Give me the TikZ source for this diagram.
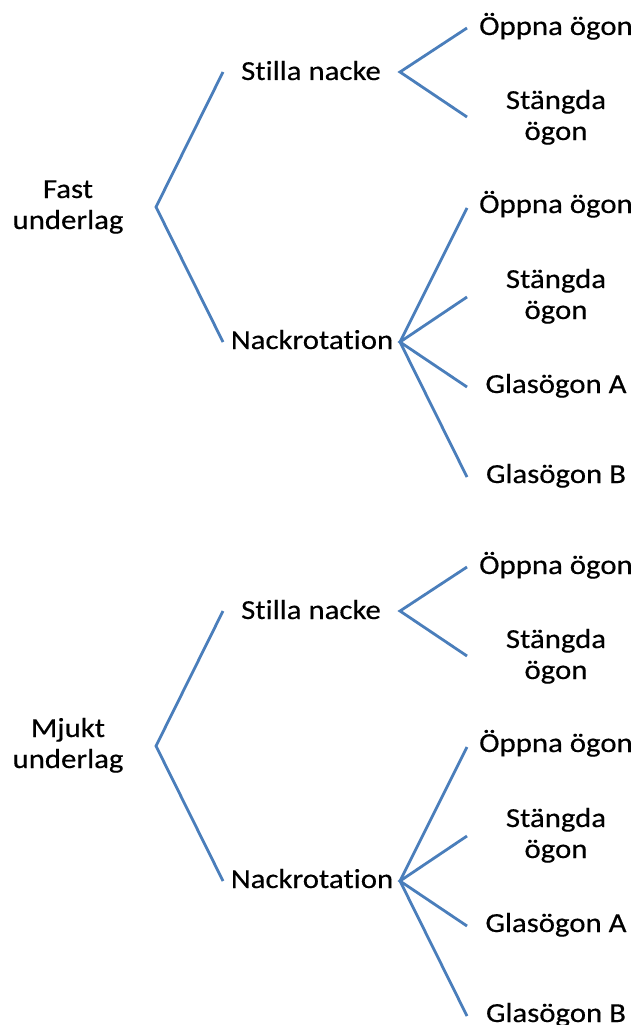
\documentclass[tikz,border=0pt]{standalone}
\usepackage{fontspec}
\setmainfont{Carlito}[FakeStretch=1.12,Ligatures={NoCommon},FakeBold=0.4]
\definecolor{lineblue}{HTML}{4A7EBB}
\tikzset{
  lbl/.style={inner sep=0pt, anchor=base, font=\fontsize{27.5}{31}\selectfont, align=center, text=black},
  conn/.style={draw=lineblue, line width=2.8pt}
}
\newcommand\halftree[3]{%
\begin{scope}[yshift=-#1pt]
  \node[lbl] (#3root) at (68,229) {#2};
  \coordinate (#3rv) at (156,207);
  \coordinate (#3a1) at (223,72);
  \coordinate (#3a2) at (223,342);
  \node[lbl] (#3sn) at (311,80) {Stilla nacke};
  \node[lbl] (#3nr) at (312,349) {Nackrotation};
  \coordinate (#3snv) at (400,72);
  \coordinate (#3nrv) at (400,342);
  \node[lbl] (#3l1) at (556,35) {Öppna ögon};
  \node[lbl] (#3l2) at (556,140) {Stängda\\ögon};
  \node[lbl] (#3l3) at (556,213) {Öppna ögon};
  \node[lbl] (#3l4) at (556,319) {Stängda\\ögon};
  \node[lbl] (#3l5) at (556,393) {Glasögon A};
  \node[lbl] (#3l6) at (556,483) {Glasögon B};
  \coordinate (#3b1) at (467,28);
  \coordinate (#3b2) at (467,117);
  \coordinate (#3c1) at (467,208);
  \coordinate (#3c2) at (467,297);
  \coordinate (#3c3) at (467,387);
  \coordinate (#3c4) at (467,477);
  \draw[conn] (#3a1) -- (#3rv) -- (#3a2);
  \draw[conn] (#3b1) -- (#3snv) -- (#3b2);
  \draw[conn] (#3c1) -- (#3nrv) -- (#3c4);
  \draw[conn] (#3c2) -- (#3nrv) -- (#3c3);
\end{scope}}
\begin{document}
\begin{tikzpicture}[x=1pt,y=-1pt]
  \useasboundingbox (0,0) rectangle (633,1025);
  \halftree{0}{Fast\\underlag}{f}
  \halftree{539}{Mjukt\\underlag}{m}
\end{tikzpicture}
\end{document}
